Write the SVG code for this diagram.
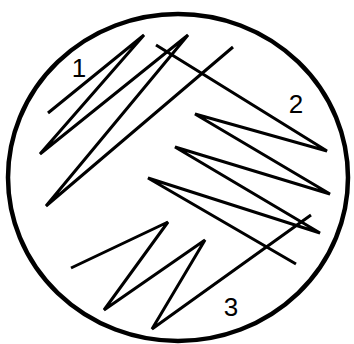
<svg xmlns="http://www.w3.org/2000/svg" width="354" height="344" viewBox="0 0 354 344">
  <style>
    .dish { fill: #ffffff; stroke: #000000; stroke-width: 4.5; }
    .streak { fill: none; stroke: #000000; stroke-width: 3; stroke-linejoin: miter; stroke-linecap: butt; }
    .label { font-family: "Liberation Sans", Arial, sans-serif; font-size: 26px; fill: #000000; text-anchor: middle; }
  </style>
  <rect width="354" height="344" fill="#ffffff"/>
  <ellipse id="dish" class="dish" cx="178" cy="177.5" rx="170" ry="163.5"/>
  <g id="streak1">
    <polyline class="streak" points="48,113 144,35 40,154 188,35 46,206 233,47"/>
    <text class="label" x="79" y="77">1</text>
  </g>
  <g id="streak2">
    <polyline class="streak" points="156,45 327,151 195,114 330,194 175,147 320,233 148,178 296,264"/>
    <text class="label" x="296" y="113">2</text>
  </g>
  <g id="streak3">
    <polyline class="streak" points="71,268 168,222 104,310 205,240 152,329 311,215"/>
    <text class="label" x="231" y="316">3</text>
  </g>
</svg>
